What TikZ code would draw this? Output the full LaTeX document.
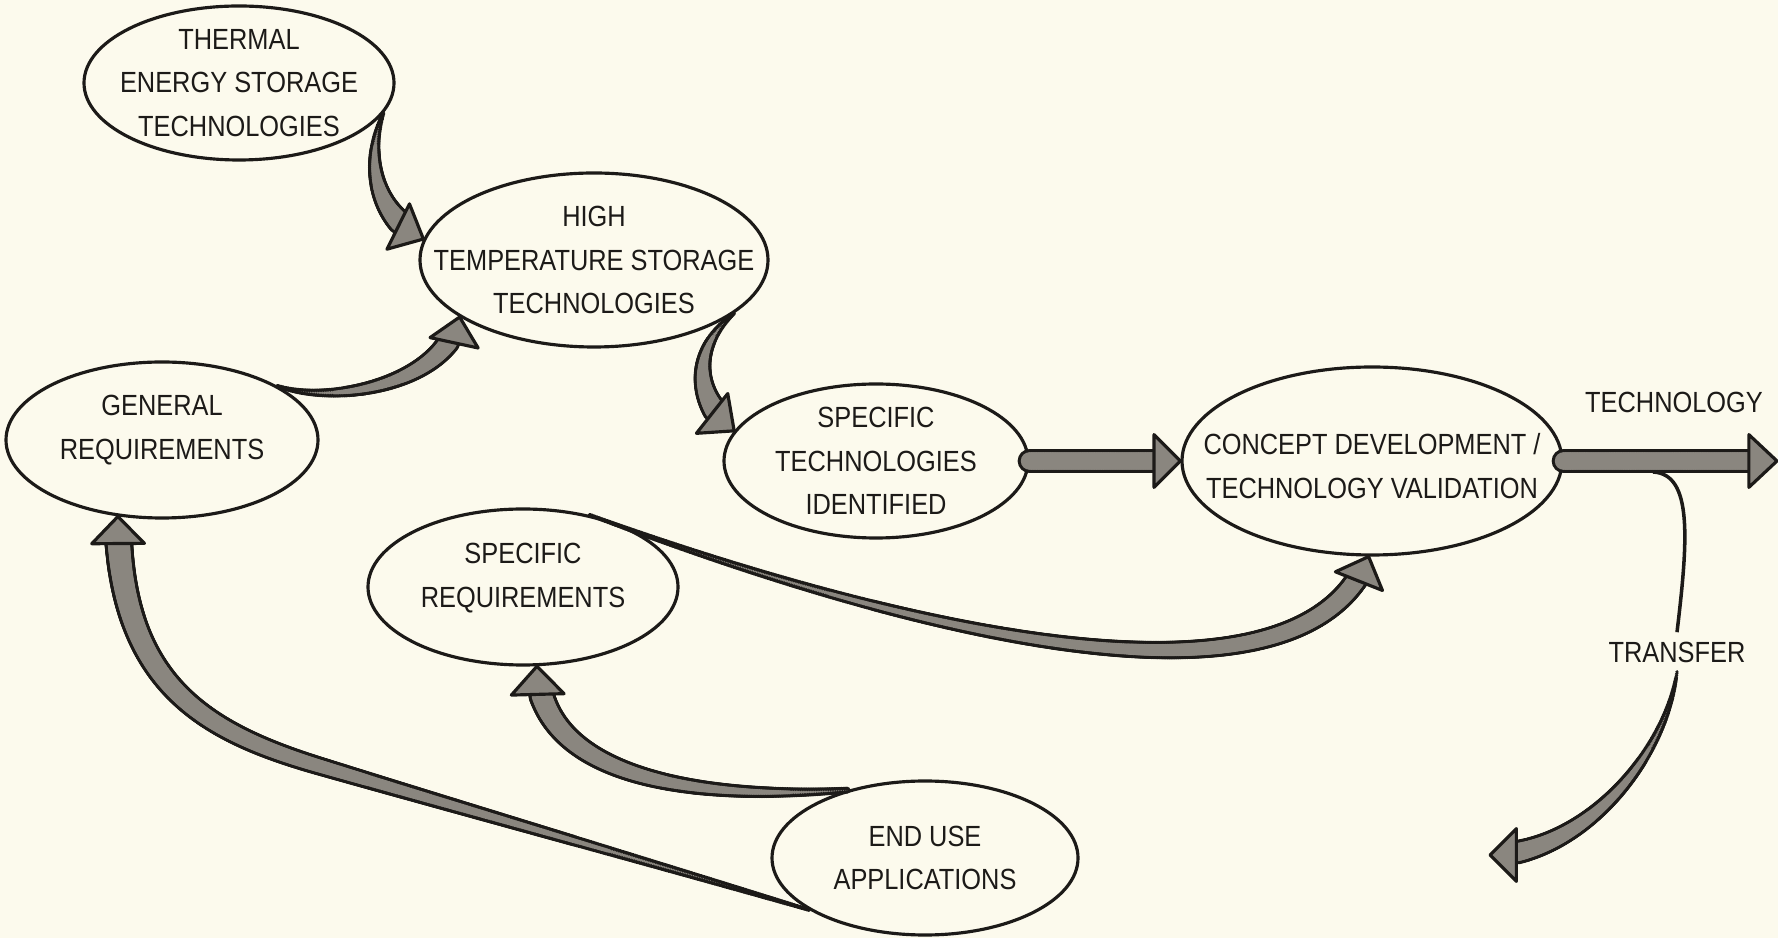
\documentclass[tikz,border=0pt]{standalone}
\usepackage{fontspec}
\setmainfont{Liberation Sans}[FakeStretch=0.87]
\usetikzlibrary{shapes.geometric, decorations.markings}
\definecolor{paper}{RGB}{252,250,237}
\definecolor{ink}{RGB}{28,26,24}
\definecolor{flowgray}{RGB}{138,134,127}

\begin{document}
\begin{tikzpicture}[
    font=\fontsize{8.3}{12.3}\selectfont,
    blob/.style={ellipse, draw=ink, line width=0.9pt, inner sep=0pt},
    every label/.style={align=center, text=ink},
    band/.style n args={5}{postaction={decorate, decoration={markings,
      mark=between positions 0 and 1 step 0.5pt with {%
        \pgfmathsetmacro\bandpos{\pgfkeysvalueof{/pgf/decoration/mark info/distance from start}}%
        \pgfmathsetmacro\bandend{\pgfdecoratedpathlength-#4}%
        \ifdim\bandpos pt<\bandend pt
          \pgfmathsetmacro\bandrad{#2+(#3-#2)*\bandpos/\bandend-#5}%
          \ifdim\bandrad pt>0pt \fill[#1] (0,0) circle[radius=\bandrad pt];\fi
        \fi}}}},
    head/.style n args={2}{postaction={decorate, decoration={markings,
      mark=at position 0.9999 with {\filldraw[fill=flowgray, draw=ink, line width=0.9pt, line join=round]
        (0,0) -- (-#1pt,#2pt) -- (-#1pt,-#2pt) -- cycle;}}}},
    flow/.style n args={4}{band={ink}{#1}{#2}{#3}{0}, band={flowgray}{#1}{#2}{#3}{0.9}, head={#3}{#4}},
  ]
  \fill[paper, use as bounding box] (0,0) rectangle (17.78,9.38);

  \node[blob, minimum width=3.10cm, minimum height=1.54cm,
        label={center:THERMAL\\ENERGY STORAGE\\TECHNOLOGIES}] (thermal) at (2.39,8.55) {};
  \node[blob, minimum width=3.48cm, minimum height=1.74cm,
        label={center:HIGH\\TEMPERATURE STORAGE\\TECHNOLOGIES}] (high) at (5.94,6.78) {};
  \node[blob, minimum width=3.12cm, minimum height=1.56cm,
        label={[yshift=1mm]center:GENERAL\\REQUIREMENTS}] (general) at (1.62,4.98) {};
  \node[blob, minimum width=3.04cm, minimum height=1.54cm,
        label={center:SPECIFIC\\TECHNOLOGIES\\IDENTIFIED}] (spectech) at (8.76,4.77) {};
  \node[blob, minimum width=3.80cm, minimum height=1.88cm,
        label={[yshift=-0.5mm]center:CONCEPT DEVELOPMENT /\\TECHNOLOGY VALIDATION}] (concept) at (13.72,4.77) {};
  \node[blob, minimum width=3.10cm, minimum height=1.56cm,
        label={[yshift=0.9mm]center:SPECIFIC\\REQUIREMENTS}] (specreq) at (5.23,3.51) {};
  \node[blob, minimum width=3.06cm, minimum height=1.54cm,
        label={center:END USE\\APPLICATIONS}] (enduse) at (9.25,0.80) {};

  \node[text=ink] (technology) at (16.74,5.36) {TECHNOLOGY};
  \node[text=ink, inner sep=2.5pt] (transfer) at (16.77,2.86) {TRANSFER};
  \coordinate (techout) at (17.77,4.77);
  \coordinate (branch) at (16.53,4.66);
  \coordinate (transout) at (14.90,0.83);

  % fat arrows
  \path[flow={0.6}{3.7}{8}{7.2}] (thermal.-12) .. controls (3.65,7.78) and (3.75,7.23) .. (high.173);
  \path[flow={0.6}{3.4}{7.5}{7}] (general.25) .. controls (3.30,5.33) and (4.45,5.53) .. (high.203);
  \path[flow={0.6}{3.7}{8}{7.2}] (high.-21) .. controls (6.90,5.88) and (6.95,5.38) .. (spectech.168);
  \path[flow={3.4}{3.4}{7.5}{7.5}] (spectech.east) -- (concept.west);
  \path[flow={0.6}{3.4}{7.5}{7.2}] (specreq.47) .. controls (9.00,3.08) and (13.00,2.08) .. (concept.-92);
  \path[flow={0.6}{4.1}{7.7}{7.5}] (enduse.204) .. controls (6.45,0.77) and (4.40,1.36) .. (3.16,1.73)
      .. controls (2.00,2.08) and (1.19,2.58) .. (general.-120);
  \path[flow={1.0}{3.8}{8}{7.5}] (enduse.139) .. controls (7.00,1.38) and (5.40,1.58) .. (specreq.-80);

  % technology transfer
  \draw[ink, line width=1pt] (branch) .. controls (16.93,4.64) and (16.88,3.98) .. (transfer.north);
  \path[flow={3.4}{3.4}{8}{7.5}] (concept.east) -- (techout);
  \path[flow={0.5}{3.5}{7.5}{7.5}] (transfer.south) .. controls (16.65,1.78) and (15.80,0.83) .. (transout);
\end{tikzpicture}
\end{document}
